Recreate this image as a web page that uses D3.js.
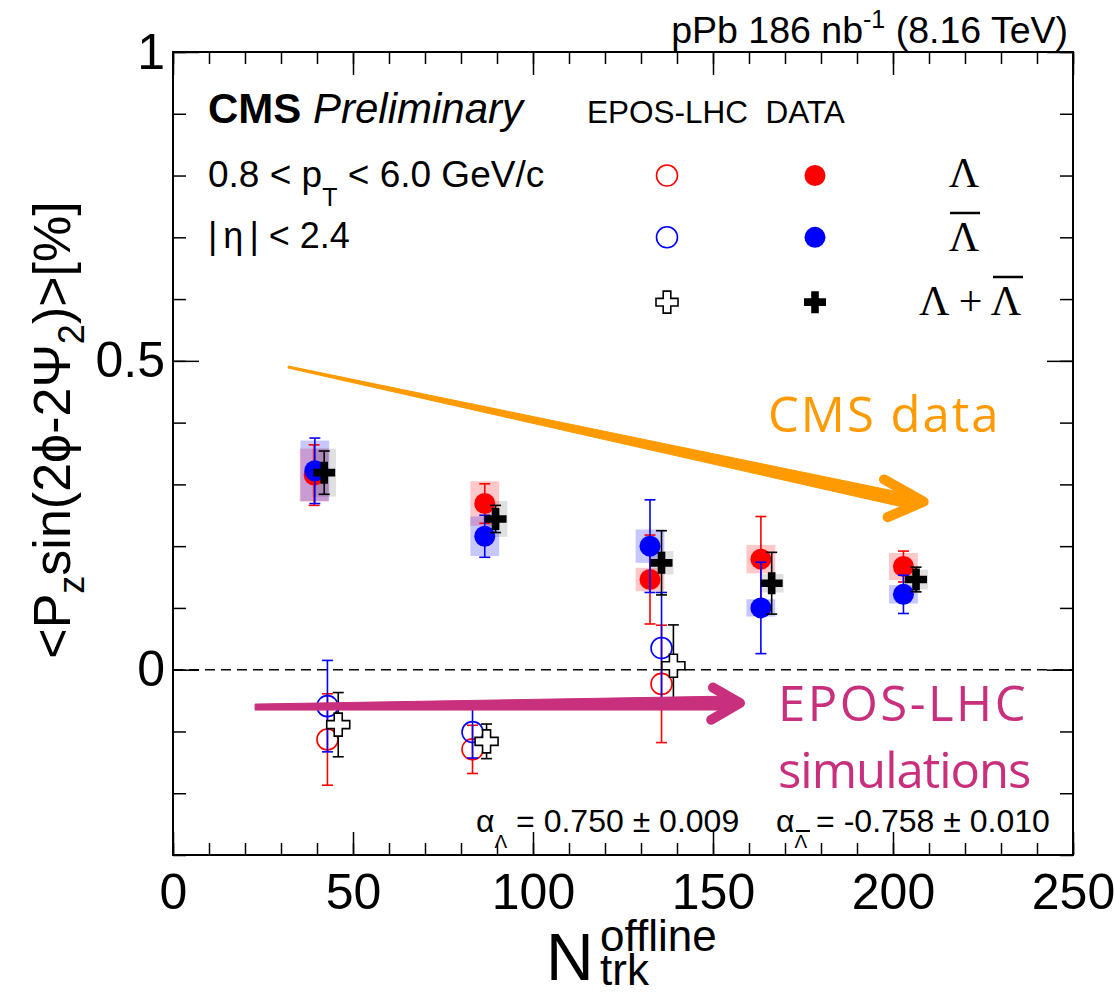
<!DOCTYPE html>
<html>
<head>
<meta charset="utf-8">
<script src="https://cdn.jsdelivr.net/npm/d3@7"></script>
<style>
  body { margin: 0; background: #fff; }
  text { font-family: "Liberation Sans", Arial, sans-serif; }
</style>
</head>
<body>
<div id="chart"></div>
<script>
// ---- values ----
// DATA, Lambda
const lamN    = [39.2, 86.6, 132.5, 163.3, 202.9];
const lamVal  = [0.315, 0.269, 0.146, 0.179, 0.167];
const lamStat = [0.049, 0.032, 0.072, 0.069, 0.025];
const lamSys  = [0.043, 0.036, 0.019, 0.023, 0.022];
// DATA, anti-Lambda
const alamN    = [39.4, 86.6, 132.5, 163.3, 202.9];
const alamVal  = [0.322, 0.216, 0.200, 0.100, 0.122];
const alamStat = [0.053, 0.034, 0.075, 0.074, 0.031];
const alamSys  = [0.049, 0.032, 0.027, 0.014, 0.015];
// DATA, Lambda + anti-Lambda
const sumN    = [42.0, 89.6, 135.7, 166.3, 206.4];
const sumVal  = [0.319, 0.244, 0.173, 0.140, 0.146];
const sumStat = [0.035, 0.022, 0.052, 0.050, 0.020];
const sumSys  = [0.039, 0.029, 0.019, 0.015, 0.016];
// EPOS-LHC
const eposN       = [42.9, 83.2, 135.7];
const eposLam     = [-0.113, -0.129, -0.023];
const eposLamErr  = [0.074, 0.039, 0.095];
const eposAlam    = [-0.059, -0.101, 0.035];
const eposAlamErr = [0.074, 0.042, 0.090];
const eposSumN    = [45.9, 87.1, 139.0];
const eposSum     = [-0.089, -0.116, 0.0065];
const eposSumErr  = [0.052, 0.028, 0.066];

const xTicks = [0, 50, 100, 150, 200, 250];
const yTicks = [0, 0.5, 1];

// annotation arrows, in data units [N, value]
const cmsArrow  = {from: [32, 0.49], to: [205, 0.272], tip: [208.5, 0.272], up: [197.5, 0.308], down: [198.5, 0.247]};
const eposArrow = {from: [22.8, -0.0605], to: [155, -0.054], tip: [157.5, -0.054], up: [150, -0.029], down: [149.5, -0.081]};

// ---- layout ----
const W = 1114, H = 995;
const margin = {top: 52, right: 41, bottom: 140, left: 173};

const svg = d3.select("#chart")
  .append("svg")
    .attr("width", W)
    .attr("height", H);

const x = d3.scaleLinear().domain([0, 250]).range([margin.left, W - margin.right]);
const y = d3.scaleLinear().domain([-0.3, 1]).range([H - margin.bottom, margin.top]);

const red = "#ff0000", blue = "#0000ff";
const orange = "#ff9a00", magenta = "#c8307d";

// zero line
svg.append("line")
  .attr("x1", x(0)).attr("x2", x(250))
  .attr("y1", y(0)).attr("y2", y(0))
  .attr("stroke", "#000")
  .attr("stroke-width", 1.5)
  .attr("stroke-dasharray", "10,6");

// ---- axes (ticks inside, mirrored like ROOT) ----
const xMinor = d3.range(0, 251, 10);
const yMinor = d3.range(-3, 11).map(i => i / 10);

svg.append("g")
  .attr("transform", `translate(0,${y(-0.3)})`)
  .call(d3.axisBottom(x).tickValues(xTicks).tickSize(-23).tickPadding(18).tickFormat(d => d))
  .call(g => g.selectAll("text").style("font-size", "50px").attr("fill", "#000"));
svg.append("g")
  .attr("transform", `translate(0,${y(-0.3)})`)
  .call(d3.axisBottom(x).tickValues(xMinor).tickSize(-12).tickFormat(""));
svg.append("g")
  .attr("transform", `translate(0,${y(1)})`)
  .call(d3.axisTop(x).tickValues(xTicks).tickSize(-23).tickFormat(""));
svg.append("g")
  .attr("transform", `translate(0,${y(1)})`)
  .call(d3.axisTop(x).tickValues(xMinor).tickSize(-12).tickFormat(""));

svg.append("g")
  .attr("transform", `translate(${x(0)},0)`)
  .call(d3.axisLeft(y).tickValues(yTicks).tickSize(-26).tickPadding(8).tickFormat(d => d))
  .call(g => g.selectAll("text").style("font-size", "50px").attr("fill", "#000"));
svg.append("g")
  .attr("transform", `translate(${x(0)},0)`)
  .call(d3.axisLeft(y).tickValues(yMinor).tickSize(-13).tickFormat(""));
svg.append("g")
  .attr("transform", `translate(${x(250)},0)`)
  .call(d3.axisRight(y).tickValues(yTicks).tickSize(-26).tickFormat(""));
svg.append("g")
  .attr("transform", `translate(${x(250)},0)`)
  .call(d3.axisRight(y).tickValues(yMinor).tickSize(-13).tickFormat(""));

svg.selectAll(".domain").remove();
svg.selectAll(".tick line").attr("stroke", "#000").attr("stroke-width", 1.5);

svg.append("rect")
  .attr("x", x(0)).attr("y", y(1))
  .attr("width", x(250) - x(0)).attr("height", y(-0.3) - y(1))
  .attr("fill", "none").attr("stroke", "#000").attr("stroke-width", 2);

// ---- markers ----
const crossPath = function(a, t) {
  return `M${-t},${-a}h${2*t}v${a-t}h${a-t}v${2*t}h${-(a-t)}v${a-t}h${-2*t}v${-(a-t)}h${-(a-t)}v${-2*t}h${a-t}Z`;
};

function zip(ns, vals, errs, sys) {
  return ns.map((n, i) => ({n: n, v: vals[i], e: errs[i], s: sys ? sys[i] : 0}));
}

function drawBoxes(data, color, opacity, halfW) {
  svg.append("g").selectAll("rect")
    .data(data)
    .join("rect")
      .attr("x", d => x(d.n - halfW))
      .attr("width", d => x(d.n + halfW) - x(d.n - halfW))
      .attr("y", d => y(d.v + d.s))
      .attr("height", d => y(d.v - d.s) - y(d.v + d.s))
      .attr("fill", color)
      .attr("fill-opacity", opacity);
}

function drawErrors(data, color) {
  const g = svg.append("g").attr("stroke", color).attr("stroke-width", 1.6);
  g.selectAll(".bar").data(data).join("line")
    .attr("x1", d => x(d.n)).attr("x2", d => x(d.n))
    .attr("y1", d => y(d.v + d.e)).attr("y2", d => y(d.v - d.e));
  g.selectAll(".capT").data(data).join("line")
    .attr("x1", d => x(d.n) - 5.5).attr("x2", d => x(d.n) + 5.5)
    .attr("y1", d => y(d.v + d.e)).attr("y2", d => y(d.v + d.e));
  g.selectAll(".capB").data(data).join("line")
    .attr("x1", d => x(d.n) - 5.5).attr("x2", d => x(d.n) + 5.5)
    .attr("y1", d => y(d.v - d.e)).attr("y2", d => y(d.v - d.e));
}

function drawCircles(data, color, filled) {
  svg.append("g").selectAll("circle")
    .data(data)
    .join("circle")
      .attr("cx", d => x(d.n))
      .attr("cy", d => y(d.v))
      .attr("r", 10.5)
      .attr("fill", filled ? color : "none")
      .attr("stroke", color)
      .attr("stroke-width", filled ? 0 : 1.6);
}

function drawCrosses(data, filled) {
  svg.append("g").selectAll("path")
    .data(data)
    .join("path")
      .attr("transform", d => `translate(${x(d.n)},${y(d.v)})`)
      .attr("d", filled ? crossPath(11, 3.8) : crossPath(11.5, 4))
      .attr("fill", filled ? "#000" : "#fff")
      .attr("stroke", "#000")
      .attr("stroke-width", filled ? 0 : 1.6);
}

const lam  = zip(lamN, lamVal, lamStat, lamSys);
const alam = zip(alamN, alamVal, alamStat, alamSys);
const sum  = zip(sumN, sumVal, sumStat, sumSys);
const eLam  = zip(eposN, eposLam, eposLamErr);
const eAlam = zip(eposN, eposAlam, eposAlamErr);
const eSum  = zip(eposSumN, eposSum, eposSumErr);

// systematic boxes
drawBoxes(lam, red, 0.22, 4);
drawBoxes(alam, blue, 0.22, 4);
drawBoxes(sum, "#000", 0.12, 3.3);

// EPOS-LHC
drawErrors(eLam, red);
drawCircles(eLam, red, false);
drawErrors(eAlam, blue);
drawCircles(eAlam, blue, false);
drawErrors(eSum, "#000");
drawCrosses(eSum, false);

// data
drawErrors(lam, red);
drawCircles(lam, red, true);
drawErrors(alam, blue);
drawCircles(alam, blue, true);
drawErrors(sum, "#000");
drawCrosses(sum, true);

// ---- texts ----
svg.append("text")
  .attr("x", 1068).attr("y", 43)
  .attr("text-anchor", "end")
  .style("font-size", "37.5px")
  .call(t => {
    t.append("tspan").text("pPb 186 nb");
    t.append("tspan").attr("dy", -15).style("font-size", "25px").text("-1");
    t.append("tspan").attr("dy", 15).text(" (8.16 TeV)");
  });

svg.append("text")
  .attr("x", 208).attr("y", 123)
  .style("font-size", "42px")
  .call(t => {
    t.append("tspan").style("font-weight", "bold").text("CMS");
    t.append("tspan").style("font-style", "italic").text(" Preliminary");
  });

svg.append("text")
  .attr("x", 208).attr("y", 187)
  .style("font-size", "37px")
  .call(t => {
    t.append("tspan").text("0.8 < p");
    t.append("tspan").attr("dy", 19).style("font-size", "25px").text("T");
    t.append("tspan").attr("dy", -19).text(" < 6.0 GeV/c");
  });

svg.append("text")
  .attr("x", 208).attr("y", 248)
  .style("font-size", "36px")
  .call(t => {
    t.append("tspan").text("|");
    t.append("tspan").attr("dx", 6).text("η");
    t.append("tspan").attr("dx", 6).text("|");
    t.append("tspan").text(" < 2.4");
  });

// legend
svg.append("text")
  .attr("x", 587).attr("y", 123)
  .style("font-size", "31.5px")
  .attr("xml:space", "preserve")
  .text("EPOS-LHC  DATA");

const legRows = [0.8, 0.7, 0.595];
const legOpenX = 667, legFillX = 815;
svg.append("circle").attr("cx", legOpenX).attr("cy", y(legRows[0])).attr("r", 10.5)
  .attr("fill", "none").attr("stroke", red).attr("stroke-width", 1.6);
svg.append("circle").attr("cx", legFillX).attr("cy", y(legRows[0])).attr("r", 10.5).attr("fill", red);
svg.append("circle").attr("cx", legOpenX).attr("cy", y(legRows[1])).attr("r", 10.5)
  .attr("fill", "none").attr("stroke", blue).attr("stroke-width", 1.6);
svg.append("circle").attr("cx", legFillX).attr("cy", y(legRows[1])).attr("r", 10.5).attr("fill", blue);
svg.append("path").attr("transform", `translate(${legOpenX},${y(legRows[2])})`)
  .attr("d", crossPath(11, 3.8)).attr("fill", "#fff").attr("stroke", "#000").attr("stroke-width", 1.6);
svg.append("path").attr("transform", `translate(${legFillX},${y(legRows[2])})`)
  .attr("d", crossPath(11, 3.8)).attr("fill", "#000");

const serif = '"Liberation Serif", "DejaVu Serif", serif';
svg.append("text").attr("x", 964).attr("y", 187).attr("text-anchor", "middle")
  .style("font-family", serif).style("font-size", "42px").text("Λ");
svg.append("text").attr("x", 964).attr("y", 251).attr("text-anchor", "middle")
  .style("font-family", serif).style("font-size", "42px").text("Λ");
svg.append("line").attr("x1", 950).attr("x2", 980).attr("y1", 213).attr("y2", 213)
  .attr("stroke", "#000").attr("stroke-width", 2.5);
svg.append("text").attr("x", 970).attr("y", 315).attr("text-anchor", "middle")
  .style("font-family", serif).style("font-size", "42px").text("Λ + Λ");
svg.append("line").attr("x1", 993).attr("x2", 1023).attr("y1", 277).attr("y2", 277)
  .attr("stroke", "#000").attr("stroke-width", 2.5);

// decay parameters
svg.append("text")
  .attr("x", 476).attr("y", 832)
  .style("font-size", "32px")
  .call(t => {
    t.append("tspan").text("α");
    t.append("tspan").attr("dy", 16).style("font-size", "19px").text("Λ");
    t.append("tspan").attr("dy", -16).text(" = 0.750 ± 0.009");
  });
svg.append("text")
  .attr("x", 776).attr("y", 832)
  .style("font-size", "32px")
  .call(t => {
    t.append("tspan").text("α");
    t.append("tspan").attr("dy", 16).style("font-size", "19px").text("Λ");
    t.append("tspan").attr("dy", -16).text(" = -0.758 ± 0.010");
  });
svg.append("line").attr("x1", 796).attr("x2", 810).attr("y1", 831).attr("y2", 831)
  .attr("stroke", "#000").attr("stroke-width", 2);

// axis titles
svg.append("text")
  .attr("transform", "translate(70,430) rotate(-90)")
  .attr("text-anchor", "middle")
  .style("font-size", "52px")
  .call(t => {
    t.append("tspan").text("<P");
    t.append("tspan").attr("dy", 14).style("font-size", "36px").text("z");
    t.append("tspan").attr("dy", -14).text("sin(2ϕ-2Ψ");
    t.append("tspan").attr("dy", 14).style("font-size", "36px").text("2");
    t.append("tspan").attr("dy", -14).text(")>[%]");
  });

// N_trk^offline as one label, super- and subscript stacked
svg.append("text")
  .attr("x", 546).attr("y", 980)
  .style("font-size", "66px")
  .call(t => {
    t.append("tspan").text("N");
    t.append("tspan").attr("x", 600).attr("y", 951).style("font-size", "44px").text("offline");
    t.append("tspan").attr("x", 600).attr("y", 985).style("font-size", "44px").text("trk");
  });

// ---- annotation arrows ----
function brushArrow(a, color, w0, w1) {
  const p0 = [x(a.from[0]), y(a.from[1])], p1 = [x(a.to[0]), y(a.to[1])];
  const dx = p1[0] - p0[0], dy = p1[1] - p0[1], L = Math.hypot(dx, dy);
  const nx = -dy / L, ny = dx / L;
  const pts = [
    [p0[0] + nx * w0 / 2, p0[1] + ny * w0 / 2],
    [p1[0] + nx * w1 / 2, p1[1] + ny * w1 / 2],
    [p1[0] - nx * w1 / 2, p1[1] - ny * w1 / 2],
    [p0[0] - nx * w0 / 2, p0[1] - ny * w0 / 2]
  ];
  svg.append("path")
    .attr("d", "M" + pts.join("L") + "Z")
    .attr("fill", color)
    .attr("stroke", color)
    .attr("stroke-width", 1)
    .attr("stroke-linejoin", "round");
  svg.append("path")
    .attr("d", d3.line()([[x(a.up[0]), y(a.up[1])], [x(a.tip[0]), y(a.tip[1])], [x(a.down[0]), y(a.down[1])]]))
    .attr("fill", "none")
    .attr("stroke", color)
    .attr("stroke-width", 10)
    .attr("stroke-linecap", "round")
    .attr("stroke-linejoin", "round");
}
brushArrow(cmsArrow, orange, 2, 14);
brushArrow(eposArrow, magenta, 6, 14);

const sans = '"Open Sans", "Noto Sans", sans-serif';
svg.append("text").attr("x", 768).attr("y", 432)
  .style("font-family", sans).style("font-size", "49px").style("font-weight", 500)
  .style("letter-spacing", "2px")
  .attr("fill", orange).text("CMS data");
svg.append("text").attr("x", 778).attr("y", 721)
  .style("font-family", sans).style("font-size", "49px")
  .style("letter-spacing", "2.5px")
  .attr("fill", magenta).text("EPOS-LHC");
svg.append("text").attr("x", 778).attr("y", 788)
  .style("font-family", sans).style("font-size", "49px")
  .style("letter-spacing", "-1px")
  .attr("fill", magenta).text("simulations");
</script>
</body>
</html>
